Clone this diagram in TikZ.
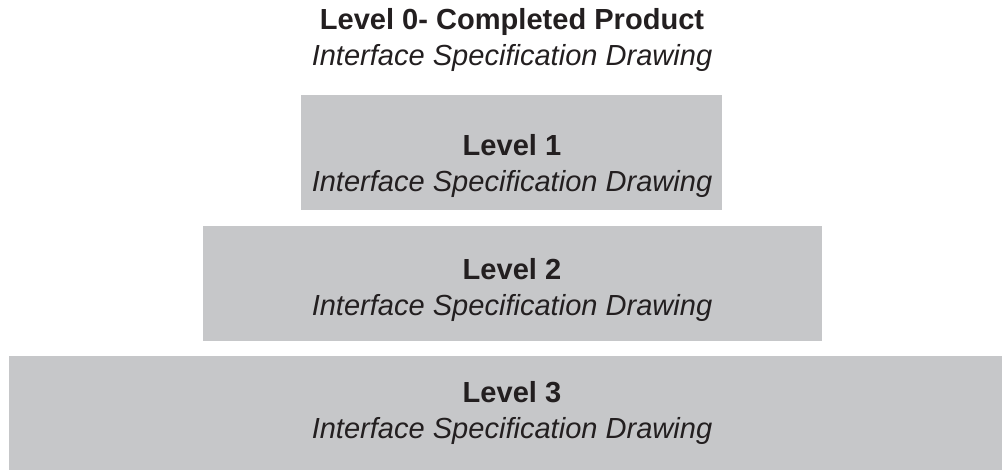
\documentclass[tikz,border=0pt]{standalone}
\usepackage{fontspec}
\setmainfont{Liberation Sans}
\definecolor{levelgray}{RGB}{198,199,201}
\definecolor{inkcolor}{RGB}{35,31,32}

\tikzset{
  leveltext/.style={align=center, anchor=base, inner sep=0pt, text=inkcolor,
    font=\fontsize{24.8}{30}\selectfont}
}

\begin{document}
\begin{tikzpicture}
  \useasboundingbox (0,0) rectangle (30.06,14.1);

  % Level 0 (no box)
  \node[leveltext] (lvl0) at (15.36,12.15) {\textbf{Level 0- Completed Product}\\\textit{Interface Specification Drawing}};

  % Level 1
  \fill[levelgray] (9.03,7.8) rectangle (21.66,11.25);
  \node[leveltext] (lvl1) at (15.36,8.37) {\textbf{Level 1}\\\textit{Interface Specification Drawing}};

  % Level 2
  \fill[levelgray] (6.09,3.87) rectangle (24.66,7.32);
  \node[leveltext] (lvl2) at (15.36,4.65) {\textbf{Level 2}\\\textit{Interface Specification Drawing}};

  % Level 3
  \fill[levelgray] (0.27,0) rectangle (30.06,3.42);
  \node[leveltext] (lvl3) at (15.36,0.96) {\textbf{Level 3}\\\textit{Interface Specification Drawing}};

\end{tikzpicture}
\end{document}
